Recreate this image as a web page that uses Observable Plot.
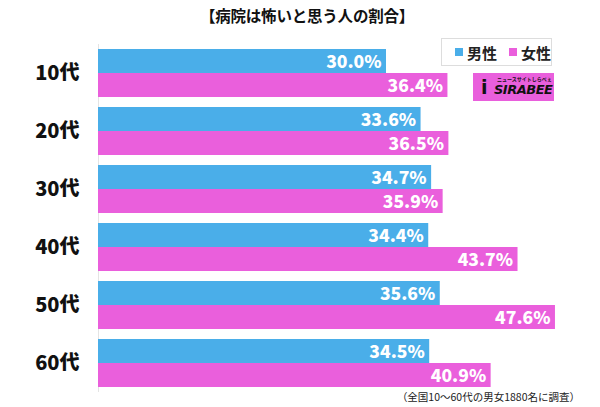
<!DOCTYPE html>
<html>
<head>
<meta charset="utf-8">
<script src="https://cdn.jsdelivr.net/npm/d3@7"></script>
<script src="https://cdn.jsdelivr.net/npm/@observablehq/plot@0.6"></script>
<style>
  html, body { margin: 0; padding: 0; background: #fff; }
  body { font-family: "Noto Sans CJK JP", "Noto Sans", sans-serif; }
  #wrap { position: relative; width: 600px; height: 407px; overflow: hidden; }
  #chart { position: absolute; left: 0; top: 0; }
  .title { position: absolute; left: 0; width: 614px; top: 4px; text-align: center; font-size: 15.5px; font-weight: 700; color: #111; letter-spacing: -0.2px; }
  .legend { position: absolute; left: 441px; top: 38px; width: 111px; height: 28px; border: 1px solid #ddd; box-sizing: border-box; display: flex; align-items: center; font-size: 15px; font-weight: 700; color: #222; }
  .legend .sw { display: inline-block; width: 8px; height: 8px; margin-right: 4px; }
  .legend .item { display: flex; align-items: center; margin-left: 13px; }
  .legend .item + .item { margin-left: 12px; }
  .logo { position: absolute; left: 473px; top: 73px; width: 81px; height: 28px; background: #e95fdc; color: #111; }
  .logo span { line-height: 1; position: absolute; white-space: nowrap; }
  .logo .small { left: 24px; top: 3px; font-size: 5px; font-weight: 700; }
  .logo .big { left: 21px; top: 10px; font-size: 13px; font-weight: 900; font-style: italic; font-family: "DejaVu Sans", sans-serif; letter-spacing: -0.5px; }
  .logo .hook { left: 8px; top: 5px; font-size: 19px; font-weight: 900; font-family: "DejaVu Sans", sans-serif; }
  .caption { position: absolute; right: 20px; top: 390px; font-size: 10.5px; line-height: 14px; color: #222; white-space: nowrap; }
</style>
</head>
<body>
<div id="wrap">
  <div id="chart"></div>
  <div class="title" id="title"></div>
  <div class="legend" id="legend"></div>
  <div class="logo"><span class="hook">i</span><span class="small">ニュースサイトしらべぇ</span><span class="big">SIRABEE</span></div>
  <div class="caption" id="caption"></div>
</div>
<script>
const titleText = "【病院は怖いと思う人の割合】";
const captionText = "（全国10〜60代の男女1880名に調査）";
const ages = ["10代", "20代", "30代", "40代", "50代", "60代"];
const series = ["男性", "女性"];
const male = [30.0, 33.6, 34.7, 34.4, 35.6, 34.5];
const female = [36.4, 36.5, 35.9, 43.7, 47.6, 40.9];
const colors = ["#4aaee9", "#ea5fdc"];

const data = [];
ages.forEach((a, i) => {
  data.push({age: a, gender: series[0], value: male[i]});
  data.push({age: a, gender: series[1], value: female[i]});
});

document.getElementById("title").textContent = titleText;
document.getElementById("caption").textContent = captionText;
const legend = document.getElementById("legend");
series.forEach((s, i) => {
  const item = document.createElement("span");
  item.className = "item";
  const sw = document.createElement("span");
  sw.className = "sw";
  sw.style.background = colors[i];
  item.appendChild(sw);
  item.appendChild(document.createTextNode(s));
  legend.appendChild(item);
});

const chart = Plot.plot({
  width: 600,
  height: 407,
  marginLeft: 98,
  marginRight: 22,
  marginTop: 47,
  marginBottom: 17,
  style: {fontFamily: "'Noto Sans CJK JP', 'Noto Sans', sans-serif", background: "transparent"},
  x: {domain: [0, 50], axis: null},
  y: {domain: series, padding: 0, axis: null},
  fy: {domain: ages, paddingInner: 0.17, paddingOuter: 0, label: null},
  color: {domain: series, range: colors},
  marks: [
    Plot.ruleX([0], {stroke: "#e4e4e4", insetTop: -5, insetBottom: -5}),
    Plot.barX(data, {x: "value", y: "gender", fy: "age", fill: "gender"}),
    Plot.text(data, {
      x: "value", y: "gender", fy: "age",
      text: d => d.value.toFixed(1) + "%",
      textAnchor: "end", dx: -5, dy: 1,
      fill: "white", fontSize: 17.5, fontWeight: 900
    }),
    Plot.axisFy({anchor: "left", tickSize: 0, tickPadding: 19, fontSize: 20, fontWeight: 900, label: null, fill: "#111"})
  ]
});
document.getElementById("chart").appendChild(chart);
</script>
</body>
</html>
